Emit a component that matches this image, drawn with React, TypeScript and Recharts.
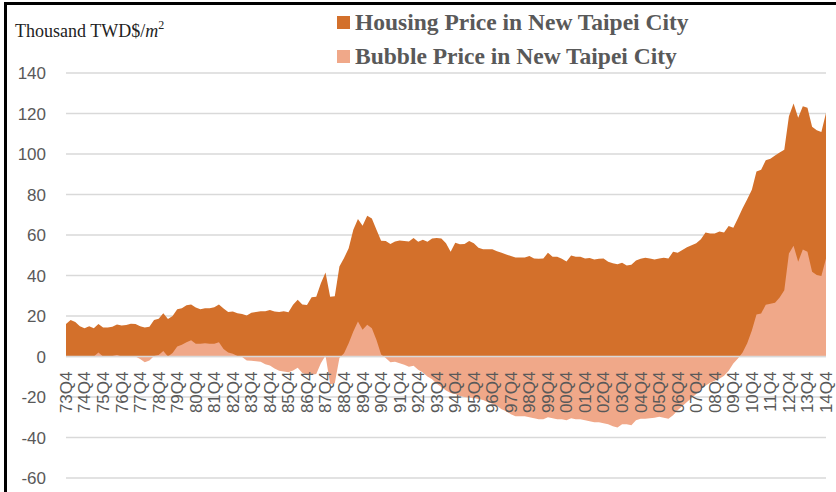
import { AreaChart, Area, XAxis, YAxis, CartesianGrid, ReferenceLine } from 'recharts';

// Q4 tick labels along the category axis (one per year)
const tickLabels = [
  '73Q4', '74Q4', '75Q4', '76Q4', '77Q4', '78Q4', '79Q4', '80Q4', '81Q4', '82Q4',
  '83Q4', '84Q4', '85Q4', '86Q4', '87Q4', '88Q4', '89Q4', '90Q4', '91Q4', '92Q4',
  '93Q4', '94Q4', '95Q4', '96Q4', '97Q4', '98Q4', '99Q4', '00Q4', '01Q4', '02Q4',
  '03Q4', '04Q4', '05Q4', '06Q4', '07Q4', '08Q4', '09Q4', '10Q4', '11Q4', '12Q4',
  '13Q4', '14Q4',
];

// quarterly categories, 73Q4 .. 14Q4
const quarters: string[] = [];
tickLabels.forEach((label, k) => {
  if (k === 0) {
    quarters.push(label);
    return;
  }
  const yy = label.slice(0, 2);
  ['Q1', 'Q2', 'Q3', 'Q4'].forEach((q) => quarters.push(yy + q));
});

const housingPrice = [
  16, 18, 17, 15, 14, 15, 14, 16, 14.3, 14.3,
  14.7, 15.8, 15.3, 15.5, 16.2, 16, 15, 14.3, 14.7, 18,
  18.7, 21.3, 18.5, 20, 23.3, 23.8, 25.3, 25.7, 24.2, 23.3,
  23.8, 23.8, 24.3, 25.7, 23.7, 22, 22.2, 21.3, 21, 20.3,
  21.6, 22, 22.4, 22.4, 23, 22.2, 22, 22.4, 21.9, 25.5,
  28, 25.7, 25.4, 29.2, 29.5, 36.2, 41.5, 29.5, 29.7, 44.5,
  48.6, 53.5, 62.6, 67.9, 64.6, 69.5, 68.2, 62.6, 57.2, 57,
  55.5, 56.8, 57.3, 57, 56.8, 58.5, 56.7, 57.7, 56.7, 58.3,
  58.5, 58.3, 55.9, 51.7, 56.2, 55.4, 55.5, 57, 55.9, 53.7,
  53, 53, 53, 52, 51.2, 50.4, 49.6, 48.9, 48.9, 48.9,
  49.6, 48.4, 48.3, 48.4, 51.2, 49.3, 49.3, 48.3, 46.9, 49.9,
  49.3, 49.3, 48.4, 48.6, 47.9, 48.3, 48.4, 46.8, 46, 45.5,
  46.3, 45, 45.3, 47.4, 48.3, 48.8, 48.4, 47.9, 48.4, 48.8,
  48.4, 51.7, 51.2, 52.6, 53.9, 54.9, 55.9, 57.9, 61.2, 60.7,
  60.7, 61.7, 61.2, 64.5, 63.6, 68.3, 73.2, 77.7, 82.3, 91.4,
  92.2, 96.9, 97.7, 99.2, 100.8, 102.1, 118.7, 125, 117.9, 123.6,
  122.8, 113.4, 111.7, 110.9, 120.3,
];

const bubblePrice = [
  0, 0, 0, 0, 0, 0, 0, 2, 0, 0,
  0.3, 0.7, 0, 0, 0, 0, -1.2, -2.8, -2, 0.3,
  0.7, 2.7, 0, 1.7, 5, 5.8, 7, 8, 6.3, 6.3,
  6.5, 6.3, 6.3, 7, 3.7, 2, 1.3, 0.3, -0.3, -2,
  -2.1, -2.4, -2.6, -3.8, -4.4, -5.9, -7, -7.4, -7.8, -6.9,
  -5.6, -8.2, -9, -9, -8.6, -3.3, 0.5, -13.7, -13.2, -0.8,
  1.6, 6.6, 12.4, 17.3, 13.2, 15.7, 14, 8.2, 1, -0.8,
  -2.8, -2.6, -3.3, -4.1, -5, -4.6, -6.6, -7.9, -9.9, -11.2,
  -13.5, -15, -16.8, -18, -18.5, -19.5, -20, -20.2, -20.5, -21,
  -21.5, -22.5, -23.3, -24.5, -26, -27, -28.5, -29.5, -29.5, -29.5,
  -30, -30.5, -31, -31, -30, -30.5, -31, -31, -31.5, -30.5,
  -31, -31, -31.5, -32, -32.5, -32.5, -33, -33.5, -34.5, -35,
  -33.5, -33.5, -34, -31.5, -30.7, -30.7, -30.5, -30.2, -29.8, -30.2,
  -30.7, -29, -26.5, -24.5, -22.5, -20.5, -18.5, -16, -14.5, -13,
  -12, -11, -9.5, -7, -3.5, -1, 2, 6.6, 12.9, 20.7,
  21.2, 25.6, 26.1, 26.6, 29.1, 32.7, 50.9, 54.7, 46.8, 52.9,
  51.7, 41.8, 40.2, 39.7, 48.4,
];

const yTicks = [-60, -40, -20, 0, 20, 40, 60, 80, 100, 120, 140];

const chartData = quarters.map((q, i) => ({
  q,
  housing: housingPrice[i],
  bubble: bubblePrice[i],
}));

const WIDTH = 836;
const HEIGHT = 492;
const X_AXIS_H = 20;
const MARGIN = { top: 73, right: 10, bottom: 14 - X_AXIS_H, left: 6 };
const Y_MIN = -60;
const Y_MAX = 140;
const PLOT_H = HEIGHT - MARGIN.top - MARGIN.bottom - X_AXIS_H;
// the category labels hang from the zero line, like Excel's crossing axis
const ZERO_Y = MARGIN.top + (PLOT_H * Y_MAX) / (Y_MAX - Y_MIN);

const HOUSING_COLOR = '#D3702B';
const BUBBLE_COLOR = '#F0A889';
const TEXT_GREY = '#595959';
const SANS = '"Liberation Sans", Arial, sans-serif';
const SERIF = '"Liberation Serif", "Times New Roman", serif';

function QuarterTick(props: any) {
  const { x, payload } = props;
  const y = ZERO_Y + 15;
  return (
    <text
      x={x}
      y={y}
      transform={`rotate(-90, ${x}, ${y})`}
      textAnchor="end"
      dy="0.35em"
      fill={TEXT_GREY}
      fontSize={17}
      fontFamily={SANS}
    >
      {payload.value}
    </text>
  );
}

function Header() {
  return (
    <svg
      width={WIDTH}
      height={72}
      style={{ position: 'absolute', left: 0, top: 0, pointerEvents: 'none' }}
    >
      <text x={15} y={37} fontSize={18} fontFamily={SERIF} fill="#222">
        Thousand TWD$/
        <tspan fontStyle="italic">m</tspan>
        <tspan fontSize={12} dy={-8}>2</tspan>
      </text>
      <rect x={337} y={16} width={13} height={13} fill={HOUSING_COLOR} />
      <text x={355} y={30} fontSize={23.5} fontWeight="bold" fontFamily={SERIF} fill={TEXT_GREY}>
        Housing Price in New Taipei City
      </text>
      <rect x={337} y={50} width={13} height={13} fill={BUBBLE_COLOR} />
      <text x={355} y={64} fontSize={23.5} fontWeight="bold" fontFamily={SERIF} fill={TEXT_GREY}>
        Bubble Price in New Taipei City
      </text>
    </svg>
  );
}

export default function App() {
  return (
    <div
      style={{
        position: 'absolute',
        left: 0,
        top: 0,
        width: WIDTH,
        height: HEIGHT,
        background: '#fff',
        overflow: 'hidden',
      }}
    >
      <AreaChart width={WIDTH} height={HEIGHT} data={chartData} margin={MARGIN}>
        <CartesianGrid vertical={false} stroke="#d9d9d9" strokeWidth={1.5} />
        <XAxis
          dataKey="q"
          ticks={tickLabels}
          interval={0}
          height={X_AXIS_H}
          axisLine={false}
          tickLine={false}
          tick={QuarterTick}
        />
        <YAxis
          domain={[Y_MIN, Y_MAX]}
          ticks={yTicks}
          width={60}
          axisLine={false}
          tickLine={false}
          tickSize={0}
          tickMargin={20}
          tick={{ fill: TEXT_GREY, fontSize: 17, fontFamily: SANS }}
        />
        <Area
          type="linear"
          dataKey="housing"
          baseValue={0}
          stroke="none"
          fill={HOUSING_COLOR}
          fillOpacity={1}
          dot={false}
          activeDot={false}
          isAnimationActive={false}
        />
        <Area
          type="linear"
          dataKey="bubble"
          baseValue={0}
          stroke="none"
          fill={BUBBLE_COLOR}
          fillOpacity={1}
          dot={false}
          activeDot={false}
          isAnimationActive={false}
        />
        <ReferenceLine y={0} stroke="#d9d9d9" strokeWidth={1.5} />
      </AreaChart>
      <Header />
      <div
        style={{
          position: 'absolute',
          left: 4,
          top: 2,
          width: WIDTH + 20,
          height: HEIGHT + 20,
          borderTop: '3px solid #000',
          borderLeft: '3px solid #000',
          pointerEvents: 'none',
        }}
      />
    </div>
  );
}
